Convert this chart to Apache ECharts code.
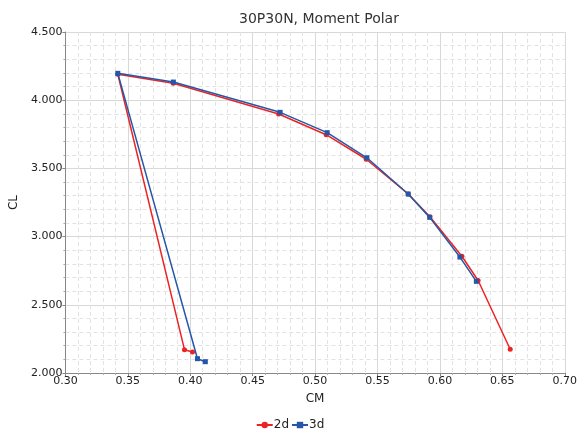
<!DOCTYPE html>
<html>
<head>
<meta charset="utf-8">
<script src="https://cdn.jsdelivr.net/npm/echarts@6/dist/echarts.min.js"></script>
<style>html,body{margin:0;padding:0;background:#fff}#c{width:580px;height:431px}</style>
</head>
<body>
<div id="c"></div>
<script>
var titleText = '30P30N, Moment Polar';
var xName = 'CM';
var yName = 'CL';
var seriesNames = ['2d', '3d'];
var cm2d = [0.4018, 0.3954, 0.3420, 0.3864, 0.4708, 0.5089, 0.5410, 0.5746, 0.5920, 0.6176, 0.6306, 0.6563];
var cl2d = [2.154, 2.171, 4.190, 4.124, 3.899, 3.747, 3.567, 3.312, 3.145, 2.856, 2.678, 2.174];
var cm3d = [0.4121, 0.4058, 0.3420, 0.3865, 0.4720, 0.5097, 0.5415, 0.5746, 0.5918, 0.6160, 0.6292];
var cl3d = [2.083, 2.105, 4.197, 4.133, 3.911, 3.762, 3.578, 3.312, 3.141, 2.850, 2.672];

function pairs(xs, ys){ return xs.map(function(x,i){ return [x, ys[i]]; }); }

var font = 'DejaVu Sans';
var chart = echarts.init(document.getElementById('c'), null, {renderer:'canvas'});
var axisCommon = {
  nameTextStyle:{color:'#222', fontSize:12, fontFamily:font},
  axisLine:{show:true, lineStyle:{color:'#888', width:1}},
  axisTick:{show:true, length:3, lineStyle:{color:'#888'}},
  minorTick:{show:true, splitNumber:5, length:2, lineStyle:{color:'#aaa'}},
  axisLabel:{color:'#222', fontSize:11, fontFamily:font, margin:3},
  splitLine:{show:true, lineStyle:{color:'#d8d8d8', width:1}},
  minorSplitLine:{show:true, lineStyle:{color:'#e2e2e2', width:1, type:[4,3]}}
};
chart.setOption({
  animation:false,
  backgroundColor:'#fff',
  title:{text:titleText, left:314, textAlign:'center', top:7,
    textStyle:{fontSize:14, fontWeight:'normal', color:'#333', fontFamily:font}},
  grid:{left:63, right:14, top:32, bottom:58},
  legend:{top:414, left:'center', itemGap:2, itemWidth:16, itemHeight:8,
    textStyle:{fontSize:12, color:'#222', fontFamily:font, padding:[0,0,0,-4]},
    data:seriesNames},
  xAxis:Object.assign({}, axisCommon, {type:'value', min:0.3, max:0.7, interval:0.05,
    name:xName, nameLocation:'middle', nameGap:20,
    axisLabel:Object.assign({}, axisCommon.axisLabel, {formatter:function(v){return v.toFixed(2);}})}),
  yAxis:Object.assign({}, axisCommon, {type:'value', min:2, max:4.5, interval:0.5,
    name:yName, nameLocation:'middle', nameGap:35, nameRotate:90,
    axisLabel:Object.assign({}, axisCommon.axisLabel, {formatter:function(v){return v.toFixed(3);}})}),
  series:[
    {name:seriesNames[0], type:'line', data:pairs(cm2d, cl2d), color:'#ee2222',
     symbol:'circle', symbolSize:5, lineStyle:{width:1.5}, z:2},
    {name:seriesNames[1], type:'line', data:pairs(cm3d, cl3d), color:'#2457a8',
     symbol:'rect', symbolSize:5, lineStyle:{width:1.5}, z:3}
  ]
});
</script>
</body>
</html>
